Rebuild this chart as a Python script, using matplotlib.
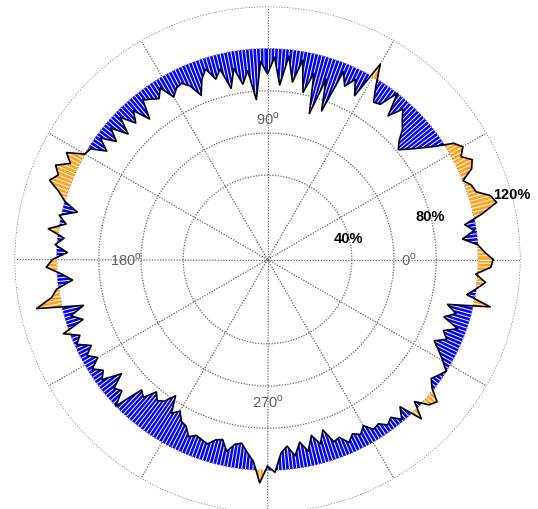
import numpy as np
import matplotlib
matplotlib.use("Agg")
import matplotlib.pyplot as plt
from matplotlib.path import Path
from matplotlib.collections import LineCollection

plt.rcParams['font.family'] = ['Liberation Sans', 'DejaVu Sans']
plt.rcParams['mathtext.fontset'] = 'custom'
plt.rcParams['mathtext.rm'] = 'Liberation Sans'

# отношение (%) по направлениям, шаг 2 градуса
angles_deg = np.arange(0, 360, 2)
r_q1 = [107, 103, 100, 93, 99, 95, 104, 112, 110, 104, 103, 100, 106, 108, 104,
        107, 104, 96, 90, 85, 81, 84, 89, 92, 96, 89, 100, 91, 90, 97,
        107, 88, 95, 90, 96, 75, 90, 72, 91, 81, 96, 85, 97, 83, 96]
r_q2 = [88, 94, 76, 90, 84, 92, 83, 93, 89, 95, 91, 84, 90, 93, 92,
        89, 96, 92, 94, 96, 87, 95, 90, 97, 89, 97, 91, 98, 92, 99,
        100, 108, 104, 110, 107, 110, 104, 100, 93, 101, 97, 105, 97, 101, 95]
r_q3 = [102, 105, 98, 93, 101, 104, 112, 90, 97, 92, 103, 96, 99, 93, 97,
        93, 98, 94, 97, 88, 95, 93, 100, 86, 88, 82, 85, 83, 78, 86,
        83, 87, 88, 92, 90, 91, 92, 89, 88, 93, 89, 88, 92, 96, 106]
r_q4 = [98, 101, 92, 89, 94, 88, 93, 86, 91, 85, 92, 91, 95, 92, 94,
        91, 95, 94, 97, 95, 99, 94, 105, 97, 103, 105, 99, 96, 98, 100,
        96, 92, 88, 93, 90, 96, 88, 93, 88, 108, 96, 100, 104, 99, 106]

r_ticks = [40, 60, 80, 100, 120]
r_labels = ['40%', '', '80%', '', '120%']
ang_labels = [0, 90, 180, 270]

blue = '#0000ff'
orange = '#ffa41f'
grid_col = '#6a6a6a'

values = np.array(r_q1 + r_q2 + r_q3 + r_q4, dtype=float)
theta = np.deg2rad(np.append(angles_deg, 360))
r = np.append(values, values[0])

fig = plt.figure(figsize=(5.38, 5.10), dpi=100)
ax = fig.add_axes([14.5 / 538, -3.5 / 510, 506 / 538, 506 / 510], projection='polar')
ax.set_ylim(0, 120)
ax.spines['polar'].set_visible(False)
ax.set_rticks(r_ticks)
ax.set_yticklabels([])
ax.set_thetagrids(range(0, 360, 30), labels=[''] * 12)
ax.grid(True, color=grid_col, linestyle=(0, (1, 1.2)), linewidth=0.9)

# заливка ниже и выше 100%
fills = []
for mask, col in [(r <= 100, blue), (r >= 100, orange)]:
    f = ax.fill_between(theta, r, 100, where=mask, interpolate=True,
                        facecolor=col, edgecolor='none', zorder=2)
    fills.append(f)

# белая радиальная штриховка внутри заливки
hatch_t = np.deg2rad(np.arange(0, 360, 1.0))
segs = [[(t, 60), (t, 125)] for t in hatch_t]
clip = Path.make_compound_path(*[p for f in fills for p in f.get_paths()])
lc = LineCollection(segs, colors='white', linewidths=0.7, zorder=3)
ax.add_collection(lc)
lc.set_clip_path(clip, ax.transData)

ax.plot(theta, r, color='black', linewidth=1.2, zorder=4)

for a in ang_labels:
    ax.text(np.deg2rad(a), 67, '%d$^{\\rm o}$' % a, ha='center', va='center',
            fontsize=10.5, color='#606060', zorder=5)

for rv, lab in zip(r_ticks, r_labels):
    if lab:
        ax.text(np.deg2rad(15), rv, lab, ha='center', va='center',
                fontsize=10.5, fontweight='bold', color='black', zorder=5)

fig.savefig('out.png', dpi=100)
